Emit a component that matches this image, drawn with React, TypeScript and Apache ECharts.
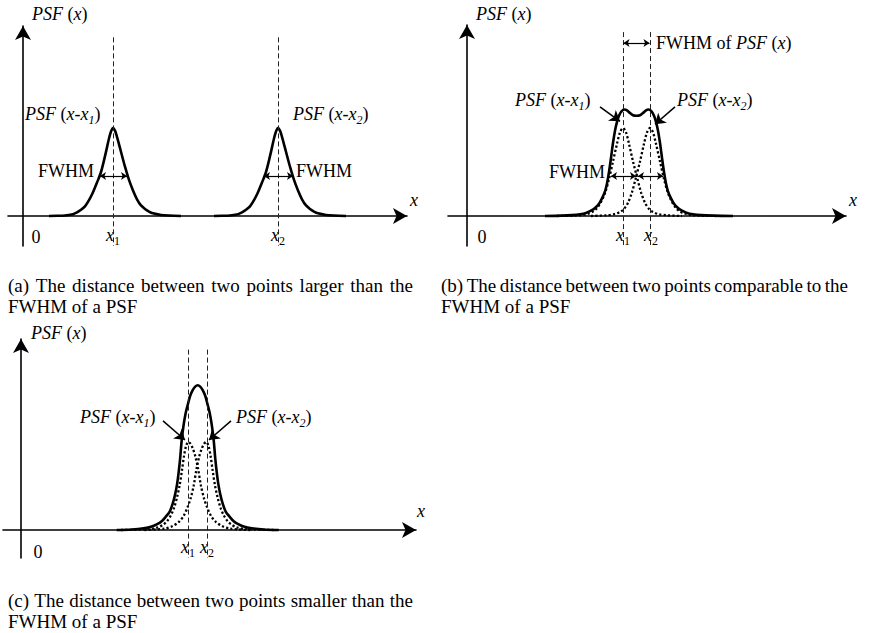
import React, { useEffect, useRef } from 'react';
import * as echarts from 'echarts';

// ---------------- data ----------------
// x: horizontal distance from the y-axis (figure units), y: height relative to one PSF peak
// Panel (a): two well separated PSFs
const aPsf1X = [26, 34, 42, 46, 50, 54, 58, 62, 66, 70, 74, 78, 82, 86, 88, 90, 92, 94, 98, 102, 106, 110, 114, 118, 122, 126, 130, 138, 146, 158];
const aPsf1Y = [0, 0.002, 0.006, 0.012, 0.02, 0.04, 0.07, 0.11, 0.18, 0.27, 0.38, 0.5, 0.68, 0.88, 0.96, 1.0, 0.97, 0.9, 0.73, 0.56, 0.41, 0.29, 0.19, 0.12, 0.08, 0.05, 0.03, 0.012, 0.005, 0];
const aPsf2X = [191, 199, 207, 211, 215, 219, 223, 227, 231, 235, 239, 243, 247, 251, 253, 255, 257, 259, 263, 267, 271, 275, 279, 283, 287, 291, 295, 303, 311, 323];
const aPsf2Y = [0, 0.002, 0.006, 0.012, 0.02, 0.04, 0.07, 0.11, 0.18, 0.27, 0.38, 0.5, 0.68, 0.88, 0.96, 1.0, 0.97, 0.9, 0.73, 0.56, 0.41, 0.29, 0.19, 0.12, 0.08, 0.05, 0.03, 0.012, 0.005, 0];
const aCenters = [90, 255];
const aFwhm = [[77, 104, 0.455], [241, 270, 0.455]];

// Panel (b): separation comparable to FWHM
const bSumX = [78, 95, 105, 113, 119, 124, 128, 132, 135, 138, 140, 142, 144, 146, 148, 150, 152, 154.5, 157.5, 160, 163, 166, 169.5, 173, 176, 179, 181.5, 184.5, 187, 189, 191, 193, 195, 197, 199, 201, 204, 207, 211, 215, 220, 226, 234, 246, 266];
const bSumY = [0, 0.004, 0.01, 0.02, 0.035, 0.06, 0.09, 0.14, 0.2, 0.28, 0.37, 0.5, 0.66, 0.83, 0.97, 1.07, 1.14, 1.19, 1.21, 1.2, 1.17, 1.145, 1.14, 1.145, 1.17, 1.2, 1.21, 1.19, 1.14, 1.07, 0.97, 0.83, 0.66, 0.5, 0.37, 0.28, 0.2, 0.14, 0.09, 0.06, 0.035, 0.02, 0.01, 0.004, 0];
const bPsf1X = [90, 108, 116, 122, 126, 130, 134, 138, 142, 146, 150, 153, 156, 159, 162, 166, 170, 174, 178, 182, 186, 192, 200, 215];
const bPsf1Y = [0, 0.005, 0.012, 0.03, 0.05, 0.09, 0.16, 0.26, 0.42, 0.62, 0.82, 0.95, 1.0, 0.95, 0.82, 0.62, 0.44, 0.27, 0.15, 0.08, 0.045, 0.02, 0.008, 0];
const bPsf2X = [124, 139, 147, 153, 157, 161, 165, 169, 173, 177, 180, 183, 186, 189, 193, 197, 201, 205, 209, 213, 217, 223, 231, 249];
const bPsf2Y = [0, 0.008, 0.02, 0.045, 0.08, 0.15, 0.27, 0.44, 0.62, 0.82, 0.95, 1.0, 0.95, 0.82, 0.62, 0.42, 0.26, 0.16, 0.09, 0.05, 0.03, 0.012, 0.005, 0];
const bCenters = [156, 183];
const bFwhm = [[144, 169, 0.455], [171, 196, 0.455], [156.5, 182.5, 1.966]];
const bPointers = [[133, 1.24, 153, 1.076], [208, 1.24, 188, 1.042]];

// Panel (c): separation smaller than FWHM
const cSumX = [95.7, 110.7, 122.7, 130.7, 136.7, 140.7, 144.7, 148.7, 151.7, 154.2, 156.2, 157.7, 159.2, 160.7, 162.7, 164.7, 166.7, 169, 171.7, 174.2, 176.7, 179.2, 181.7, 184.4, 186.7, 188.7, 190.7, 192.7, 194.2, 195.7, 197.2, 199.2, 201.7, 204.7, 208.7, 212.7, 216.7, 222.7, 230.7, 242.7, 257.7];
const cSumY = [0, 0.006, 0.02, 0.04, 0.07, 0.1, 0.15, 0.21, 0.3, 0.41, 0.53, 0.66, 0.82, 1.02, 1.2, 1.33, 1.42, 1.52, 1.59, 1.63, 1.645, 1.63, 1.59, 1.52, 1.42, 1.33, 1.2, 1.02, 0.82, 0.66, 0.53, 0.41, 0.3, 0.21, 0.15, 0.1, 0.07, 0.04, 0.02, 0.006, 0];
const cPsf1X = [100, 120, 130, 137, 142, 146, 150, 153, 156, 158.5, 161, 163, 165, 167.3, 169.5, 172, 174.5, 177, 180, 183, 186, 190, 195, 201, 209, 229];
const cPsf1Y = [0, 0.005, 0.015, 0.03, 0.06, 0.1, 0.17, 0.25, 0.37, 0.5, 0.68, 0.84, 0.95, 1.0, 0.98, 0.92, 0.83, 0.7, 0.5, 0.36, 0.26, 0.16, 0.09, 0.045, 0.015, 0];
const cPsf2X = [123.6, 143.6, 151.6, 157.6, 162.6, 166.6, 169.6, 172.6, 175.6, 178.1, 180.6, 183.1, 185.3, 187.6, 189.6, 191.6, 194.1, 196.6, 199.6, 202.6, 206.6, 210.6, 215.6, 222.6, 232.6, 252.6];
const cPsf2Y = [0, 0.015, 0.045, 0.09, 0.16, 0.26, 0.36, 0.5, 0.7, 0.83, 0.92, 0.98, 1.0, 0.95, 0.84, 0.68, 0.5, 0.37, 0.25, 0.17, 0.1, 0.06, 0.03, 0.015, 0.005, 0];
const cCenters = [167, 186];
const cPointers = [[142, 1.24, 164, 1.023], [210, 1.24, 188, 1.023]];

const captionA = ['(a) The distance between two points larger than the', 'FWHM of a PSF'];
const captionB = ['(b) The distance between two points comparable to the', 'FWHM of a PSF'];
const captionC = ['(c) The distance between two points smaller than the', 'FWHM of a PSF'];

// ---------------- layout ----------------
const FONT = '"Liberation Serif", "Times New Roman", Times, serif';
const PX_PER_UNIT = 88;
const CAP_SIZE = 19;
const panels = [
  { ox: 23, oy: 216, left: 8, right: 407, top: 26, bottom: 246, dashTop: 2.03 },
  { ox: 467, oy: 216, left: 448, right: 846, top: 25, bottom: 246, dashTop: 2.09 },
  { ox: 21, oy: 530, left: 3, right: 416, top: 339, bottom: 558, dashTop: 2.05 },
];

const RICH: any = {
  n: { fontFamily: FONT, fontSize: 18, lineHeight: 24, fill: '#000' },
  i: { fontFamily: FONT, fontSize: 18, fontStyle: 'italic', lineHeight: 24, fill: '#000' },
  si: { fontFamily: FONT, fontSize: 12, fontStyle: 'italic', lineHeight: 13, verticalAlign: 'bottom', fill: '#000' },
  sn: { fontFamily: FONT, fontSize: 12, lineHeight: 13, verticalAlign: 'bottom', fill: '#000' },
};
const PSFX = '{i|PSF}{n| (}{i|x}{n|)}';
const PSF1 = '{i|PSF}{n| (}{i|x}{n|-}{i|x}{si|1}{n|)}';
const PSF2 = '{i|PSF}{n| (}{i|x}{n|-}{i|x}{si|2}{n|)}';
const FWHMOF = '{n|FWHM of }{i|PSF}{n| (}{i|x}{n|)}';
const X1 = '{i|x}{sn|1}';
const X2 = '{i|x}{sn|2}';

const pts = (xs: number[], ys: number[]) => xs.map((x, i) => [x, ys[i]]);

function txt(x: number, y: number, text: string, align = 'left') {
  return {
    type: 'text', x, y, silent: true,
    style: { text, textAlign: align, textVerticalAlign: 'middle', fill: '#000', font: `18px ${FONT}`, rich: RICH },
  };
}

function caption(x: number, y: number, lines: string[], width: number) {
  const ctx = document.createElement('canvas').getContext('2d') as CanvasRenderingContext2D;
  const font = `${CAP_SIZE}px ${FONT}`;
  ctx.font = font;
  const words = lines[0].split(' ');
  const total = words.reduce((s, w) => s + ctx.measureText(w).width, 0);
  const gap = Math.max(3, (width - total) / (words.length - 1));
  const rich = {
    w: { fontFamily: FONT, fontSize: CAP_SIZE, fill: '#000', lineHeight: 22 },
    g: { fontFamily: FONT, fontSize: CAP_SIZE, width: gap, lineHeight: 22 },
  };
  const first = words.map((w) => `{w|${w}}`).join('{g| }');
  return [
    { type: 'text', x, y, silent: true, style: { text: first, textAlign: 'left', textVerticalAlign: 'middle', font, fill: '#000', rich } },
    { type: 'text', x, y: y + 21, silent: true, style: { text: lines[1], textAlign: 'left', textVerticalAlign: 'middle', font, fill: '#000' } },
  ];
}

function buildOption() {
  const grid = panels.map((p) => ({ left: p.left, top: p.top, width: p.right - p.left, height: p.bottom - p.top, containLabel: false }));
  const axisLine = { show: true, onZero: true, symbol: ['none', 'arrow'], symbolSize: [12, 14], lineStyle: { color: '#000', width: 1.6 } };
  const xAxis = panels.map((p, i) => ({
    type: 'value', gridIndex: i, min: p.left - p.ox, max: p.right - p.ox,
    axisLine, axisTick: { show: false }, axisLabel: { show: false }, splitLine: { show: false },
  }));
  const yAxis = panels.map((p, i) => ({
    type: 'value', gridIndex: i, min: -(p.bottom - p.oy) / PX_PER_UNIT, max: (p.oy - p.top) / PX_PER_UNIT,
    axisLine, axisTick: { show: false }, axisLabel: { show: false }, splitLine: { show: false },
  }));

  const solid = (gi: number, data: number[][], markLine?: any) => ({
    type: 'line', xAxisIndex: gi, yAxisIndex: gi, data, smooth: 0.3,
    symbol: 'none', showSymbol: false, silent: true, z: 4,
    lineStyle: { color: '#000', width: 2.6, join: 'round' }, markLine,
  });
  const dotted = (gi: number, data: number[][], markLine?: any) => ({
    type: 'line', xAxisIndex: gi, yAxisIndex: gi, data, smooth: 0.3,
    symbol: 'none', showSymbol: false, silent: true, z: 3,
    lineStyle: { color: '#000', width: 2.3, type: [2.2, 2.2] }, markLine,
  });
  const vlines = (gi: number, xs: number[]) => ({
    silent: true, symbol: ['none', 'none'], label: { show: false }, emphasis: { disabled: true },
    lineStyle: { color: '#222', width: 1, type: [5, 3] },
    data: xs.map((x) => [{ coord: [x, panels[gi].dashTop] }, { coord: [x, yAxis[gi].min] }]),
  });
  const dbl = (segs: number[][]) => ({
    silent: true, symbol: ['arrow', 'arrow'], symbolSize: 6, label: { show: false }, emphasis: { disabled: true },
    lineStyle: { color: '#000', width: 1.2, type: 'solid' },
    data: segs.map(([x0, x1, y]) => [{ coord: [x0, y] }, { coord: [x1, y] }]),
  });
  const ptr = (segs: number[][]) => ({
    silent: true, symbol: ['none', 'arrow'], symbolSize: 10, label: { show: false }, emphasis: { disabled: true },
    lineStyle: { color: '#000', width: 1.5, type: 'solid' },
    data: segs.map(([x0, y0, x1, y1]) => [{ coord: [x0, y0] }, { coord: [x1, y1] }]),
  });

  const series = [
    solid(0, pts(aPsf1X, aPsf1Y), vlines(0, aCenters)),
    solid(0, pts(aPsf2X, aPsf2Y), dbl(aFwhm)),
    solid(1, pts(bSumX, bSumY), vlines(1, bCenters)),
    dotted(1, pts(bPsf1X, bPsf1Y), dbl(bFwhm)),
    dotted(1, pts(bPsf2X, bPsf2Y), ptr(bPointers)),
    solid(2, pts(cSumX, cSumY), vlines(2, cCenters)),
    dotted(2, pts(cPsf1X, cPsf1Y), ptr(cPointers)),
    dotted(2, pts(cPsf2X, cPsf2Y)),
  ];

  const graphic = [
    // (a)
    txt(32, 14, PSFX), txt(25, 114, PSF1), txt(293, 114, PSF2),
    txt(94, 171, '{n|FWHM}', 'right'), txt(296, 171, '{n|FWHM}'),
    txt(410, 200, '{i|x}'), txt(36, 237, '{n|0}', 'center'),
    txt(113, 235, X1, 'center'), txt(278, 235, X2, 'center'),
    // (b)
    txt(476, 14, PSFX), txt(656, 43, FWHMOF), txt(515, 100, PSF1), txt(677, 100, PSF2),
    txt(605, 172, '{n|FWHM}', 'right'), txt(849, 200, '{i|x}'), txt(482, 237, '{n|0}', 'center'),
    txt(623, 235, X1, 'center'), txt(651, 235, X2, 'center'),
    // (c)
    txt(31, 333, PSFX), txt(80, 417, PSF1), txt(236, 417, PSF2),
    txt(417, 511, '{i|x}'), txt(38, 552, '{n|0}', 'center'),
    txt(188, 547, X1, 'center'), txt(207, 547, X2, 'center'),
    ...caption(8, 285, captionA, 405),
    ...caption(441, 285, captionB, 407),
    ...caption(8, 600, captionC, 405),
  ];

  return { animation: false, backgroundColor: '#fff', grid, xAxis, yAxis, series, graphic };
}

export default function App() {
  const ref = useRef<HTMLDivElement>(null);
  useEffect(() => {
    if (!ref.current) return;
    const chart = echarts.init(ref.current, null, { renderer: 'svg' });
    chart.setOption(buildOption() as any);
    return () => chart.dispose();
  }, []);
  return <div ref={ref} style={{ position: 'absolute', left: 0, top: 0, width: 876, height: 633, background: '#fff' }} />;
}
